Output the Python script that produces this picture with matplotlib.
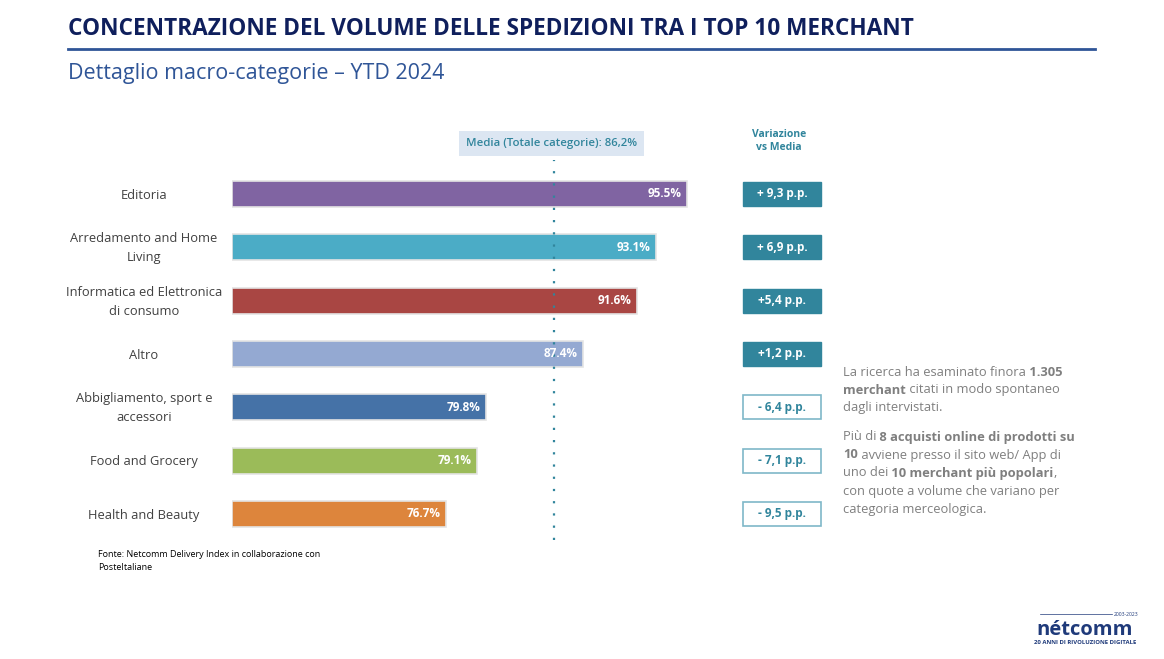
import matplotlib
matplotlib.use("Agg")
import matplotlib.pyplot as plt
from matplotlib.patches import Rectangle
import matplotlib.transforms as mtransforms

# ---------------- data ----------------
categories = ["Editoria", "Arredamento and Home\nLiving", "Informatica ed Elettronica\ndi consumo",
              "Altro", "Abbigliamento, sport e\naccessori", "Food and Grocery", "Health and Beauty"]
values = [95.5, 93.1, 91.6, 87.4, 79.8, 79.1, 76.7]
value_labels = ["95.5%", "93.1%", "91.6%", "87.4%", "79.8%", "79.1%", "76.7%"]
variations = ["+ 9,3 p.p.", "+ 6,9 p.p.", "+5,4 p.p.", "+1,2 p.p.", "- 6,4 p.p.", "- 7,1 p.p.", "- 9,5 p.p."]
variation_positive = [True, True, True, True, False, False, False]
media_label = "Media (Totale categorie): 86,2%"
media_line_x = 85.1  # position of dotted line as drawn in the picture
bar_colors = ["#8064A2", "#4BACC6", "#A94643", "#94A9D2", "#4572A7", "#9BBB59", "#DD853C"]

title = "CONCENTRAZIONE DEL VOLUME DELLE SPEDIZIONI TRA I TOP 10 MERCHANT"
subtitle = "Dettaglio macro-categorie \u2013 YTD 2024"
source = "Fonte: Netcomm Delivery Index in collaborazione con\nPosteItaliane"

W, H = 1164, 659
fig = plt.figure(figsize=(W / 100, H / 100), dpi=100)
FONT = ["Open Sans", "DejaVu Sans"]
plt.rcParams["font.family"] = FONT

def fx(px):
    return px / W

def fy(py):
    return 1 - py / H

TEAL = "#31859C"
GRAY = "#404040"

# ---------------- header ----------------
fig.text(fx(68), fy(29), title, fontsize=16.3, fontweight="bold", color="#0F1F5C",
         va="center", ha="left")
fig.add_artist(plt.Line2D([fx(68), fx(1095)], [fy(49), fy(49)], color="#2F5597", lw=2.0))
fig.text(fx(68), fy(73), subtitle, fontsize=15.5, color="#2F5597", va="center", ha="left")

# ---------------- axes ----------------
x0 = 60.0
x1 = 100.0
pxu = 12.82
ax_left = 232
ax_right = ax_left + (x1 - x0) * pxu
top_px, bot_px = 160, 540
ax = fig.add_axes([fx(ax_left), fy(bot_px), fx(ax_right - ax_left), (bot_px - top_px) / H])
n = len(categories)
ypos = list(range(n))
ax.barh(ypos, [v - x0 for v in values], left=x0, height=0.49, color=bar_colors,
        edgecolor="#E4E4E4", linewidth=1.2, zorder=2)
ax.set_xlim(x0, x1)
sp = 53.33
ax.set_ylim((bot_px - 194) / sp, -(194 - top_px) / sp)
ax.axis("off")

ax.axvline(media_line_x, color=TEAL, lw=1.6, ls=(0, (1, 4.5)), zorder=3)

for i, (v, lab) in enumerate(zip(values, value_labels)):
    ax.annotate(lab, (v, i), xytext=(-4, 0), textcoords="offset points", ha="right", va="center",
                color="white", fontsize=8.5, fontweight="bold", zorder=4)

# category labels (centered at x~144)
blend = mtransforms.blended_transform_factory(fig.transFigure, ax.transData)
for i, c in enumerate(categories):
    fig.text(fx(144), i + 0.02, c, transform=blend, ha="center", va="center", fontsize=9.3,
             color=GRAY, linespacing=1.6)

# variation boxes
bw, bh = 78, 24
for i, (t, pos) in enumerate(zip(variations, variation_positive)):
    yc_disp = ax.transData.transform((0, i))[1]
    yc = yc_disp / (fig.dpi * fig.get_size_inches()[1])
    rect = Rectangle((fx(743), yc - bh / 2 / H), bw / W, bh / H, transform=fig.transFigure,
                     facecolor=TEAL if pos else "white", edgecolor=TEAL if pos else "#7FB8C8",
                     lw=1.0 if pos else 1.2)
    fig.add_artist(rect)
    fig.text(fx(743 + bw / 2), yc, t, ha="center", va="center", fontsize=8.5, fontweight="bold",
             color="white" if pos else TEAL)

fig.text(fx(779), fy(141), "Variazione\nvs Media", ha="center", va="center", fontsize=7.5,
         fontweight="bold", color=TEAL, linespacing=1.2)

# media box
fig.add_artist(Rectangle((fx(459), fy(156)), 185 / W, 25 / H, transform=fig.transFigure,
                         facecolor="#DCE6F2", edgecolor="none"))
fig.text(fx(551.5), fy(143.5), media_label, ha="center", va="center", fontsize=8.2,
         color=TEAL, fontweight="semibold")

# ---------------- right text with mixed bold ----------------
renderer = fig.canvas.get_renderer()

def rich_line(x_px, y_px, segments, size=9.3, color="#7F7F7F"):
    x = x_px
    for txt, bold in segments:
        t = fig.text(fx(x), fy(y_px), txt, ha="left", va="center", fontsize=size, color=color,
                     fontweight="bold" if bold else "normal")
        bb = t.get_window_extent(renderer=renderer)
        x += bb.width

lines = [
    (372, [("La ricerca ha esaminato finora", False), (" 1.305", True)]),
    (390, [("merchant", True), (" citati in modo spontaneo", False)]),
    (408, [("dagli intervistati.", False)]),
    (437, [("Pi\u00f9 di", False), (" 8 acquisti online di prodotti su", True)]),
    (455, [("10", True), (" avviene presso il sito web/ App di", False)]),
    (473, [("uno dei", False), (" 10 merchant pi\u00f9 popolari", True), (",", False)]),
    (491, [("con quote a volume che variano per", False)]),
    (509, [("categoria merceologica.", False)]),
]
for y, segs in lines:
    rich_line(843, y, segs)

# source
fig.text(fx(98), fy(561), source, ha="left", va="center", fontsize=6.5, color="black", linespacing=1.45)

# logo
fig.text(fx(1085), fy(630), "n\u00e9tcomm", ha="center", va="center", fontsize=14.5, fontweight="bold",
         color="#1F3A7A")
fig.text(fx(1085), fy(643), "20 ANNI DI RIVOLUZIONE DIGITALE", ha="center", va="center",
         fontsize=4.3, fontweight="bold", color="#1F3A7A")
fig.text(fx(1138), fy(614), "2003-2023", ha="right", va="center", fontsize=3.6, color="#1F3A7A")
fig.add_artist(plt.Line2D([fx(1040), fx(1112)], [fy(614), fy(614)], color="#1F3A7A", lw=0.5))

fig.savefig("out.png", dpi=100)
